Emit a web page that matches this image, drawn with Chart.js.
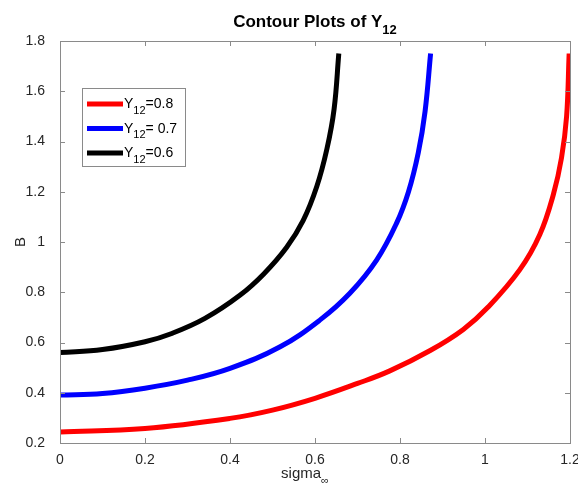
<!DOCTYPE html>
<html>
<head>
<meta charset="utf-8">
<script src="https://cdn.jsdelivr.net/npm/chart.js@4.4.0/dist/chart.umd.min.js"></script>
<style>
  html, body { margin: 0; padding: 0; background: #fff; }
  #wrap { width: 578px; height: 491px; }
</style>
</head>
<body>
<div id="wrap"><canvas id="contourChart" width="578" height="491"></canvas></div>
<script>
// values
var sigmaRed = [0, 0.2, 0.4, 0.5, 0.6, 0.7, 0.776, 0.871, 0.949, 1.008, 1.082, 1.129, 1.161, 1.18, 1.192, 1.198];
var bRed     = [0.244, 0.258, 0.298, 0.331, 0.378, 0.437, 0.487, 0.568, 0.652, 0.742, 0.89, 1.03, 1.19, 1.335, 1.5, 1.75];

var sigmaBlue = [0, 0.1, 0.2, 0.3, 0.4, 0.518, 0.612, 0.682, 0.745, 0.792, 0.82, 0.843, 0.859, 0.872];
var bBlue     = [0.391, 0.397, 0.418, 0.45, 0.497, 0.583, 0.69, 0.796, 0.928, 1.075, 1.2, 1.355, 1.52, 1.75];

var sigmaBlack = [0, 0.1, 0.2, 0.263, 0.341, 0.424, 0.48, 0.533, 0.572, 0.604, 0.628, 0.645, 0.656];
var bBlack     = [0.56, 0.572, 0.603, 0.636, 0.696, 0.789, 0.874, 0.978, 1.085, 1.22, 1.37, 1.53, 1.75];

var seriesLabels = ['Y_{12}=0.8', 'Y_{12}= 0.7', 'Y_{12}=0.6'];
var seriesColors = ['#ff0000', '#0000ff', '#000000'];

var xTicks = [0, 0.2, 0.4, 0.6, 0.8, 1, 1.2];
var yTicks = [0.2, 0.4, 0.6, 0.8, 1, 1.2, 1.4, 1.6, 1.8];

var chartTitle = 'Contour Plots of Y_{12}';
var xTitle = 'sigma_{\u221e}';
var yTitle = 'B';

var FONT = '"Liberation Sans", Arial, Helvetica, sans-serif';

function toPoints(xs, ys) {
  var pts = [];
  for (var i = 0; i < xs.length; i++) pts.push({x: xs[i], y: ys[i]});
  return pts;
}

// split 'Y_{12}=0.8' into [text, isSubscript] parts
function parseTex(str) {
  var parts = [];
  str.split(/(_\{[^}]*\})/).forEach(function(p) {
    if (!p) return;
    if (p.indexOf('_{') === 0) parts.push([p.slice(2, -1), true]);
    else parts.push([p, false]);
  });
  return parts;
}

function texWidth(ctx, parts, size, weight) {
  var w = 0;
  parts.forEach(function(p) {
    ctx.font = weight + ' ' + (p[1] ? Math.round(size * 0.75) : size) + 'px ' + FONT;
    w += ctx.measureText(p[0]).width;
  });
  return w;
}

function drawTex(ctx, str, x, y, size, weight, align) {
  var parts = parseTex(str);
  var w = texWidth(ctx, parts, size, weight);
  var cx = align === 'center' ? x - w / 2 : x;
  ctx.textAlign = 'left';
  ctx.textBaseline = 'alphabetic';
  parts.forEach(function(p) {
    ctx.font = weight + ' ' + (p[1] ? Math.round(size * 0.75) : size) + 'px ' + FONT;
    ctx.fillText(p[0], cx, p[1] ? y + size * 0.4 : y);
    cx += ctx.measureText(p[0]).width;
  });
}

// MATLAB style box, inward ticks, title, axis labels, legend
var matlabPlugin = {
  id: 'matlabLook',
  afterDraw: function(chart) {
    var ctx = chart.ctx;
    var a = chart.chartArea;
    var xs = chart.scales.x, ys = chart.scales.y;
    ctx.save();

    ctx.strokeStyle = '#8a8a8a';
    ctx.lineWidth = 1;
    ctx.strokeRect(Math.round(a.left) + 0.5, Math.round(a.top) + 0.5,
                   Math.round(a.right - a.left), Math.round(a.bottom - a.top));
    ctx.beginPath();
    xTicks.forEach(function(v) {
      var px = Math.round(xs.getPixelForValue(v)) + 0.5;
      ctx.moveTo(px, a.bottom); ctx.lineTo(px, a.bottom - 5);
      ctx.moveTo(px, a.top); ctx.lineTo(px, a.top + 5);
    });
    yTicks.forEach(function(v) {
      var py = Math.round(ys.getPixelForValue(v)) + 0.5;
      ctx.moveTo(a.left, py); ctx.lineTo(a.left + 5, py);
      ctx.moveTo(a.right, py); ctx.lineTo(a.right - 5, py);
    });
    ctx.stroke();

    ctx.fillStyle = '#000';
    drawTex(ctx, chartTitle, (a.left + a.right) / 2, 27, 17, 'bold', 'center');

    ctx.fillStyle = '#262626';
    drawTex(ctx, xTitle, 305, 478, 15, 'normal', 'center');

    ctx.save();
    ctx.translate(25, 242);
    ctx.rotate(-Math.PI / 2);
    drawTex(ctx, yTitle, 0, 0, 15, 'normal', 'center');
    ctx.restore();

    // legend
    ctx.fillStyle = '#fff';
    ctx.fillRect(83, 89, 102, 77);
    ctx.strokeStyle = '#8a8a8a';
    ctx.strokeRect(82.5, 88.5, 103, 78);
    chart.data.datasets.forEach(function(ds, i) {
      var ly = 104 + i * 24.5;
      ctx.strokeStyle = ds.borderColor;
      ctx.lineWidth = 5;
      ctx.beginPath();
      ctx.moveTo(87, ly); ctx.lineTo(123, ly);
      ctx.stroke();
      ctx.fillStyle = '#000';
      drawTex(ctx, ds.label, 124, ly + 4, 14, 'normal', 'left');
    });
    ctx.restore();
  }
};

var datasets = [
  toPoints(sigmaRed, bRed),
  toPoints(sigmaBlue, bBlue),
  toPoints(sigmaBlack, bBlack)
].map(function(pts, i) {
  return {
    label: seriesLabels[i],
    data: pts,
    borderColor: seriesColors[i],
    backgroundColor: seriesColors[i],
    borderWidth: 5,
    pointRadius: 0,
    showLine: true,
    fill: false,
    tension: 0.4
  };
});

var contourChart = new Chart(document.getElementById('contourChart'), {
  type: 'scatter',
  data: { datasets: datasets },
  options: {
    responsive: false,
    animation: false,
    layout: { padding: { left: 0, top: 41, right: 8, bottom: 0 } },
    plugins: {
      legend: { display: false },
      title: { display: false },
      tooltip: { enabled: false }
    },
    scales: {
      x: {
        type: 'linear',
        min: 0,
        max: 1.2,
        afterFit: function(scale) { scale.height = 48; scale.paddingRight = 0; scale.paddingLeft = 0; },
        afterBuildTicks: function(scale) { scale.ticks = xTicks.map(function(v) { return {value: v}; }); },
        grid: { display: false },
        border: { display: false },
        ticks: {
          padding: 1,
          maxRotation: 0,
          color: '#262626',
          font: { family: FONT, size: 14 },
          callback: function(v) { return String(Math.round(v * 10) / 10); }
        }
      },
      y: {
        type: 'linear',
        min: 0.2,
        max: 1.8,
        afterFit: function(scale) { scale.width = 60; },
        afterBuildTicks: function(scale) { scale.ticks = yTicks.map(function(v) { return {value: v}; }); },
        grid: { display: false },
        border: { display: false },
        ticks: {
          padding: 7,
          color: '#262626',
          font: { family: FONT, size: 14 },
          callback: function(v) { return String(Math.round(v * 10) / 10); }
        }
      }
    }
  },
  plugins: [matlabPlugin]
});
</script>
</body>
</html>
